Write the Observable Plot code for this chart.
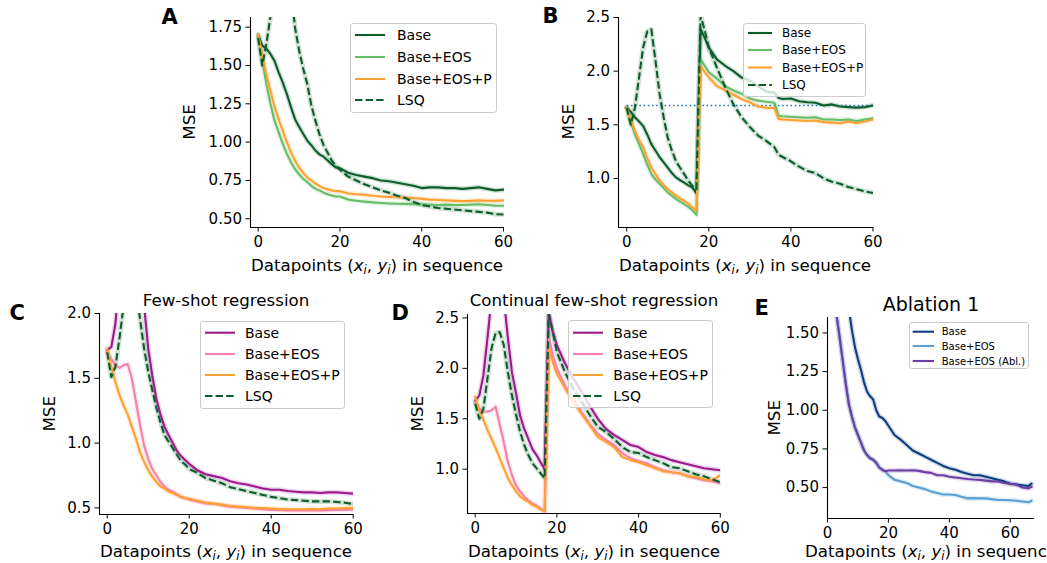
<!DOCTYPE html>
<html><head><meta charset="utf-8">
<script src="https://cdn.jsdelivr.net/npm/d3@7"></script>
<script src="https://cdn.jsdelivr.net/npm/@observablehq/plot@0.6"></script>
<style>
body{margin:0;background:#fff;}
#fig{position:relative;width:1047px;height:563px;overflow:hidden;font-family:"DejaVu Sans",sans-serif;background:#fff;}
.legend{position:absolute;box-sizing:border-box;border:1px solid #cccccc;border-radius:3px;background:rgba(255,255,255,0.8);}
.legend svg{position:absolute;left:-1px;top:-1px;overflow:visible;}
#overlay{position:absolute;left:0;top:0;pointer-events:none;}
</style></head><body><div id="fig"></div>
<script>
// ---------- DATA ----------
const xs60 = [0,1,2,3,4,5,6,7,8,9,10,11,12,13,14,15,16,17,18,19,20,22,24,26,28,30,32,34,36,38,40,42,44,46,48,50,52,54,56,58,60];
const xsB = [0,1,2,3,4,5,6,7,8,9,10,11,12,13,14,15,16,17,18,19,20,22,24,26,28,30,32,34,36,37,38,40,42,44,46,48,50,52,54,56,58,60];
const xsE = [0,1,2,3,4,5,6,7,8,9,10,11,12,13,14,15,16,17,18,19,20,22,24,26,28,30,32,34,36,38,40,42,44,46,48,50,52,54,56,58,60,62,64,66,67];

// Panel A
const aBase = [1.70,1.63,1.61,1.575,1.53,1.455,1.39,1.315,1.23,1.15,1.10,1.055,1.01,0.98,0.945,0.92,0.905,0.88,0.855,0.835,0.83,0.80,0.785,0.775,0.765,0.75,0.745,0.735,0.725,0.715,0.70,0.705,0.705,0.70,0.70,0.695,0.70,0.705,0.695,0.685,0.69];
const aEOS = [1.70,1.53,1.38,1.25,1.14,1.065,0.99,0.925,0.87,0.825,0.79,0.76,0.74,0.715,0.695,0.685,0.67,0.66,0.652,0.645,0.645,0.625,0.618,0.612,0.607,0.603,0.60,0.598,0.597,0.595,0.594,0.592,0.59,0.592,0.589,0.59,0.592,0.595,0.59,0.586,0.585];
const aEOSP = [1.70,1.565,1.445,1.335,1.23,1.15,1.075,1.00,0.935,0.88,0.835,0.80,0.77,0.75,0.73,0.713,0.70,0.692,0.685,0.68,0.68,0.665,0.66,0.656,0.65,0.645,0.642,0.64,0.638,0.635,0.63,0.625,0.622,0.62,0.617,0.615,0.617,0.62,0.618,0.617,0.62];
const aLSQ = [1.68,1.50,1.64,1.82,2.10,2.40,2.50,2.30,2.00,1.75,1.60,1.48,1.38,1.24,1.14,1.05,0.98,0.93,0.88,0.845,0.82,0.775,0.75,0.725,0.705,0.685,0.67,0.65,0.635,0.61,0.59,0.58,0.57,0.565,0.56,0.555,0.55,0.545,0.54,0.53,0.528];

// Panel B
const bBase = [1.66,1.62,1.57,1.53,1.49,1.41,1.32,1.26,1.20,1.15,1.10,1.05,1.01,0.985,0.96,0.935,0.915,0.86,2.39,2.31,2.22,2.11,2.05,2.00,1.94,1.91,1.86,1.81,1.80,1.75,1.74,1.745,1.72,1.71,1.705,1.68,1.69,1.67,1.665,1.66,1.665,1.68];
const bEOS = [1.66,1.53,1.41,1.32,1.23,1.13,1.04,0.99,0.95,0.91,0.87,0.84,0.81,0.785,0.76,0.735,0.705,0.66,2.11,2.05,1.99,1.93,1.86,1.82,1.79,1.745,1.725,1.715,1.705,1.585,1.58,1.575,1.57,1.565,1.57,1.55,1.55,1.545,1.55,1.535,1.55,1.56];
const bEOSP = [1.66,1.55,1.44,1.36,1.29,1.19,1.10,1.04,0.98,0.94,0.90,0.87,0.84,0.815,0.79,0.765,0.73,0.70,2.05,1.99,1.94,1.86,1.82,1.78,1.74,1.71,1.67,1.66,1.655,1.555,1.55,1.545,1.54,1.535,1.54,1.525,1.52,1.515,1.53,1.515,1.53,1.55];
const bLSQ = [1.66,1.50,1.66,1.94,2.22,2.37,2.39,2.10,1.79,1.57,1.38,1.26,1.16,1.10,1.04,0.98,0.93,0.90,2.52,2.38,2.22,2.03,1.85,1.69,1.57,1.48,1.40,1.35,1.29,1.22,1.20,1.16,1.11,1.07,1.05,1.00,0.97,0.95,0.92,0.90,0.88,0.865];
const bReference = 1.68;

// Panel C
const cBase = [1.72,1.74,1.92,2.30,2.60,2.80,2.90,2.70,2.40,2.06,1.73,1.52,1.34,1.22,1.125,1.06,1.00,0.94,0.90,0.87,0.84,0.79,0.76,0.745,0.73,0.705,0.69,0.68,0.665,0.65,0.64,0.64,0.63,0.625,0.62,0.62,0.615,0.62,0.62,0.615,0.61];
const cEOS = [1.70,1.65,1.60,1.58,1.60,1.61,1.50,1.32,1.14,0.98,0.88,0.80,0.75,0.70,0.665,0.64,0.625,0.605,0.585,0.575,0.565,0.55,0.535,0.53,0.52,0.51,0.505,0.50,0.495,0.49,0.485,0.485,0.48,0.48,0.48,0.482,0.48,0.483,0.485,0.485,0.488];
const cEOSP = [1.73,1.59,1.47,1.37,1.29,1.22,1.125,1.035,0.93,0.855,0.79,0.74,0.70,0.665,0.65,0.625,0.615,0.60,0.585,0.575,0.57,0.555,0.54,0.533,0.525,0.515,0.51,0.505,0.50,0.498,0.495,0.49,0.49,0.49,0.49,0.492,0.49,0.495,0.495,0.498,0.50];
const cLSQ = [1.70,1.51,1.59,1.81,2.06,2.25,2.35,2.20,1.96,1.73,1.55,1.41,1.27,1.16,1.06,1.01,0.96,0.91,0.86,0.835,0.80,0.77,0.73,0.71,0.69,0.66,0.645,0.63,0.615,0.60,0.585,0.575,0.565,0.56,0.555,0.55,0.55,0.55,0.545,0.54,0.53];

// Panel D
const dBase = [1.68,1.73,1.93,2.30,2.70,2.90,2.95,2.70,2.30,1.96,1.75,1.53,1.40,1.30,1.20,1.14,1.07,1.00,2.56,2.36,2.23,2.05,1.90,1.77,1.63,1.50,1.40,1.34,1.29,1.24,1.22,1.17,1.14,1.12,1.09,1.07,1.05,1.03,1.01,1.00,0.99];
const dEOS = [1.67,1.60,1.57,1.57,1.585,1.62,1.44,1.27,1.07,0.94,0.84,0.78,0.73,0.69,0.66,0.64,0.61,0.58,2.31,2.13,2.00,1.83,1.70,1.57,1.45,1.35,1.29,1.24,1.16,1.11,1.08,1.06,1.02,0.99,0.97,0.96,0.93,0.91,0.89,0.88,0.86];
const dEOSP = [1.72,1.585,1.49,1.39,1.30,1.21,1.11,1.01,0.91,0.84,0.78,0.73,0.70,0.68,0.645,0.63,0.60,0.585,2.20,2.06,1.95,1.80,1.67,1.55,1.44,1.32,1.27,1.22,1.12,1.09,1.07,1.04,1.01,0.98,0.97,0.96,0.93,0.92,0.90,0.89,0.94];
const dLSQ = [1.65,1.50,1.60,1.90,2.20,2.35,2.36,2.23,1.96,1.73,1.54,1.37,1.24,1.14,1.06,1.01,0.96,0.91,2.53,2.36,2.16,1.96,1.80,1.67,1.54,1.42,1.37,1.30,1.22,1.17,1.16,1.12,1.09,1.06,1.02,1.01,0.98,0.95,0.93,0.90,0.87];

// Panel E
const eBase = [2.70,2.55,2.40,2.25,2.10,1.95,1.80,1.66,1.52,1.41,1.33,1.26,1.18,1.12,1.09,1.07,1.00,0.96,0.95,0.93,0.90,0.84,0.81,0.775,0.74,0.72,0.70,0.68,0.66,0.64,0.625,0.615,0.60,0.59,0.58,0.58,0.57,0.56,0.55,0.54,0.525,0.52,0.515,0.51,0.525];
const eEOS = [2.30,2.00,1.80,1.61,1.47,1.32,1.17,1.04,0.96,0.89,0.84,0.79,0.74,0.71,0.69,0.68,0.66,0.63,0.615,0.605,0.58,0.55,0.54,0.53,0.51,0.50,0.49,0.475,0.465,0.455,0.455,0.452,0.44,0.43,0.432,0.43,0.43,0.425,0.42,0.42,0.418,0.415,0.41,0.405,0.415];
const eAbl = [2.30,2.00,1.80,1.61,1.47,1.32,1.17,1.04,0.96,0.89,0.84,0.79,0.74,0.71,0.69,0.68,0.66,0.63,0.615,0.605,0.61,0.61,0.612,0.61,0.612,0.608,0.60,0.595,0.58,0.58,0.57,0.565,0.56,0.555,0.552,0.55,0.545,0.54,0.54,0.53,0.525,0.52,0.50,0.495,0.505];

const labelsGreen = ["Base","Base+EOS","Base+EOS+P","LSQ"];
const labelsE = ["Base","Base+EOS","Base+EOS (Abl.)"];
const xTicks60 = [0,20,40,60];
const yTicksA = [0.5,0.75,1.0,1.25,1.5,1.75];
const yTicksB = [1.0,1.5,2.0,2.5];
const yTicksC = [0.5,1.0,1.5,2.0];
const yTicksD = [1.0,1.5,2.0,2.5];
const yTicksE = [0.5,0.75,1.0,1.25,1.5];

// ---------- STYLE ----------
const C = {
  gDark:"#0b5e2b", gLight:"#67bd6a", orange:"#ffa033",
  purple:"#9c1a8e", pink:"#f77fb0",
  navy:"#0b3f80", sky:"#5aa0d5", violet:"#6b3fa3", dotted:"#1f77b4"
};
const DASH = "7.4,3.2";
const fig = document.getElementById("fig");

function rows(xs, ys){ return xs.map((x,i)=>({x, y: ys[i]})); }

function makePanel(cfg){
  const mL=60, mT=10, mR=10, mB=40;
  const [l,t,r,b] = cfg.frame;
  const marks = [];
  for (const s of cfg.series){
    const d = rows(s.xs, s.ys);
    marks.push(Plot.line(d, {x:"x", y:"y", stroke:s.color, strokeWidth:5, strokeOpacity:0.18, clip:true}));
  }
  if (cfg.extra) marks.push(...cfg.extra);
  for (const s of cfg.series){
    const d = rows(s.xs, s.ys);
    marks.push(Plot.line(d, {x:"x", y:"y", stroke:s.color, strokeWidth:2.1, clip:true,
      strokeDasharray: s.dash ? DASH : null, strokeLinecap: s.dash ? "butt" : "round"}));
  }
  marks.push(Plot.ruleX([cfg.xDomain[0]], {stroke:"#000", strokeWidth:1.1}));
  marks.push(Plot.ruleY([cfg.yDomain[0]], {stroke:"#000", strokeWidth:1.1}));
  marks.push(Plot.axisX({ticks:cfg.xTicks, tickSize:4.5, tickPadding:4.5, label:null, tickFormat:d=>String(d), fontSize:cfg.fs}));
  marks.push(Plot.axisY({ticks:cfg.yTicks, tickSize:4.5, tickPadding:4, label:null, tickFormat:d3.format(cfg.yFmt), fontSize:cfg.fs}));
  const p = Plot.plot({
    width: r-l+mL+mR, height: b-t+mT+mB,
    marginLeft:mL, marginTop:mT, marginRight:mR, marginBottom:mB,
    x:{domain:cfg.xDomain}, y:{domain:cfg.yDomain},
    style:{fontFamily:"DejaVu Sans", fontSize:cfg.fs+"px", background:"transparent", color:"#000", overflow:"visible"},
    marks
  });
  p.style.position="absolute"; p.style.left=(l-mL)+"px"; p.style.top=(t-mT)+"px"; p.style.maxWidth="none";
  fig.appendChild(p);
}

function makeLegend(cfg){
  const [bl,bt,br,bb] = cfg.box;
  const div = document.createElement("div");
  div.className="legend";
  Object.assign(div.style,{left:bl+"px", top:bt+"px", width:(br-bl)+"px", height:(bb-bt)+"px"});
  const ns="http://www.w3.org/2000/svg";
  const svg = document.createElementNS(ns,"svg");
  svg.setAttribute("width", br-bl); svg.setAttribute("height", bb-bt);
  cfg.items.forEach((it,i)=>{
    const y = cfg.rows[i]-bt;
    const ln = document.createElementNS(ns,"line");
    ln.setAttribute("x1", cfg.line[0]-bl); ln.setAttribute("x2", cfg.line[1]-bl);
    ln.setAttribute("y1", y); ln.setAttribute("y2", y);
    ln.setAttribute("stroke", it.color); ln.setAttribute("stroke-width", 2.1);
    if (it.dash) ln.setAttribute("stroke-dasharray", DASH);
    svg.appendChild(ln);
    const tx = document.createElementNS(ns,"text");
    tx.setAttribute("x", cfg.textX-bl); tx.setAttribute("y", y+0.365*cfg.fs);
    tx.setAttribute("font-size", cfg.fs); tx.setAttribute("font-family","DejaVu Sans");
    tx.textContent = it.label;
    svg.appendChild(tx);
  });
  div.appendChild(svg);
  fig.appendChild(div);
}

// ---------- PANELS ----------
makePanel({frame:[250,17,504,227], xDomain:[-1.88,60.25], yDomain:[0.443,1.813], xTicks:xTicks60, yTicks:yTicksA, yFmt:".2f", fs:15,
  series:[{xs:xs60,ys:aBase,color:C.gDark},{xs:xs60,ys:aEOS,color:C.gLight},{xs:xs60,ys:aEOSP,color:C.orange},{xs:xs60,ys:aLSQ,color:C.gDark,dash:true}]});
makePanel({frame:[617.7,16.7,873,226.7], xDomain:[-2.0,60.2], yDomain:[0.543,2.5], xTicks:xTicks60, yTicks:yTicksB, yFmt:".1f", fs:15,
  extra:[Plot.line(xsB.map(x=>({x, y:bReference})), {x:"x", y:"y", stroke:C.dotted, strokeWidth:1.6, strokeDasharray:"1.6,2.6", strokeLinecap:"butt"})],
  series:[{xs:xsB,ys:bBase,color:C.gDark},{xs:xsB,ys:bEOS,color:C.gLight},{xs:xsB,ys:bEOSP,color:C.orange},{xs:xsB,ys:bLSQ,color:C.gDark,dash:true}]});
makePanel({frame:[99,313.3,353,514.3], xDomain:[-1.88,60.07], yDomain:[0.449,2.0], xTicks:xTicks60, yTicks:yTicksC, yFmt:".1f", fs:15,
  series:[{xs:xs60,ys:cBase,color:C.purple},{xs:xs60,ys:cEOS,color:C.pink},{xs:xs60,ys:cEOSP,color:C.orange},{xs:xs60,ys:cLSQ,color:C.gDark,dash:true}]});
makePanel({frame:[467.3,314.3,720.5,513.3], xDomain:[-1.89,60.1], yDomain:[0.561,2.534], xTicks:xTicks60, yTicks:yTicksD, yFmt:".1f", fs:15,
  series:[{xs:xs60,ys:dBase,color:C.purple},{xs:xs60,ys:dEOS,color:C.pink},{xs:xs60,ys:dEOSP,color:C.orange},{xs:xs60,ys:dLSQ,color:C.gDark,dash:true}]});
makePanel({frame:[827.3,317.3,1034.4,518.3], xDomain:[0,68], yDomain:[0.30,1.60], xTicks:xTicks60, yTicks:yTicksE, yFmt:".2f", fs:15,
  series:[{xs:xsE,ys:eBase,color:C.navy},{xs:xsE,ys:eEOS,color:C.sky},{xs:xsE,ys:eAbl,color:C.violet}]});

// ---------- LEGENDS ----------
const greenItems = [{label:labelsGreen[0],color:C.gDark},{label:labelsGreen[1],color:C.gLight},{label:labelsGreen[2],color:C.orange},{label:labelsGreen[3],color:C.gDark,dash:true}];
const purpleItems = [{label:labelsGreen[0],color:C.purple},{label:labelsGreen[1],color:C.pink},{label:labelsGreen[2],color:C.orange},{label:labelsGreen[3],color:C.gDark,dash:true}];
makeLegend({box:[350,23,497,113], rows:[35,57,79,100], line:[355,385], textX:397, fs:14, items:greenItems});
makeLegend({box:[743,23,866,97], rows:[33,50,67.5,85], line:[748,772], textX:782, fs:12, items:greenItems});
makeLegend({box:[200,321,345,409], rows:[332.7,354,375,396], line:[205,235], textX:245, fs:14, items:purpleItems});
makeLegend({box:[567.7,320,713,408], rows:[332.7,354,375,396], line:[572.7,602.7], textX:613, fs:14, items:purpleItems});
makeLegend({box:[909,322,1029,369], rows:[331.7,346,361], line:[912.7,934], textX:941.7, fs:10,
  items:[{label:labelsE[0],color:C.navy},{label:labelsE[1],color:C.sky},{label:labelsE[2],color:C.violet}]});

// ---------- TEXT OVERLAY ----------
const ov = `
<svg id="overlay" width="1047" height="563" font-family="DejaVu Sans" fill="#000">
  <g font-weight="bold" font-size="21">
    <text x="161.5" y="23.5">A</text>
    <text x="542.5" y="23">B</text>
    <text x="9.5" y="320">C</text>
    <text x="391.5" y="320">D</text>
    <text x="754.5" y="314.5">E</text>
  </g>
  <g font-size="16.67" text-anchor="middle">
    <text x="226" y="305.7">Few-shot regression</text>
    <text x="594" y="305.7">Continual few-shot regression</text>
    <text x="931" y="311" font-size="19">Ablation 1</text>
  </g>
  <g font-size="16.67" text-anchor="middle">
    ${[[195,122],[574.3,121.7],[55,413.8],[423.3,413.8],[780,417.8]].map(([x,y])=>`<text transform="translate(${x},${y}) rotate(-90)">MSE</text>`).join("")}
    ${[[377,270.5],[745,270.5],[226,557],[594,556.5],[931,557]].map(([x,y])=>`<text x="${x}" y="${y}">Datapoints (<tspan font-style="italic">x</tspan><tspan font-style="italic" font-size="11.7" dy="3">i</tspan><tspan dy="-3">, </tspan><tspan font-style="italic">y</tspan><tspan font-style="italic" font-size="11.7" dy="3">i</tspan><tspan dy="-3">) in sequence</tspan></text>`).join("")}
  </g>
</svg>`;
fig.insertAdjacentHTML("beforeend", ov);
</script></body></html>
